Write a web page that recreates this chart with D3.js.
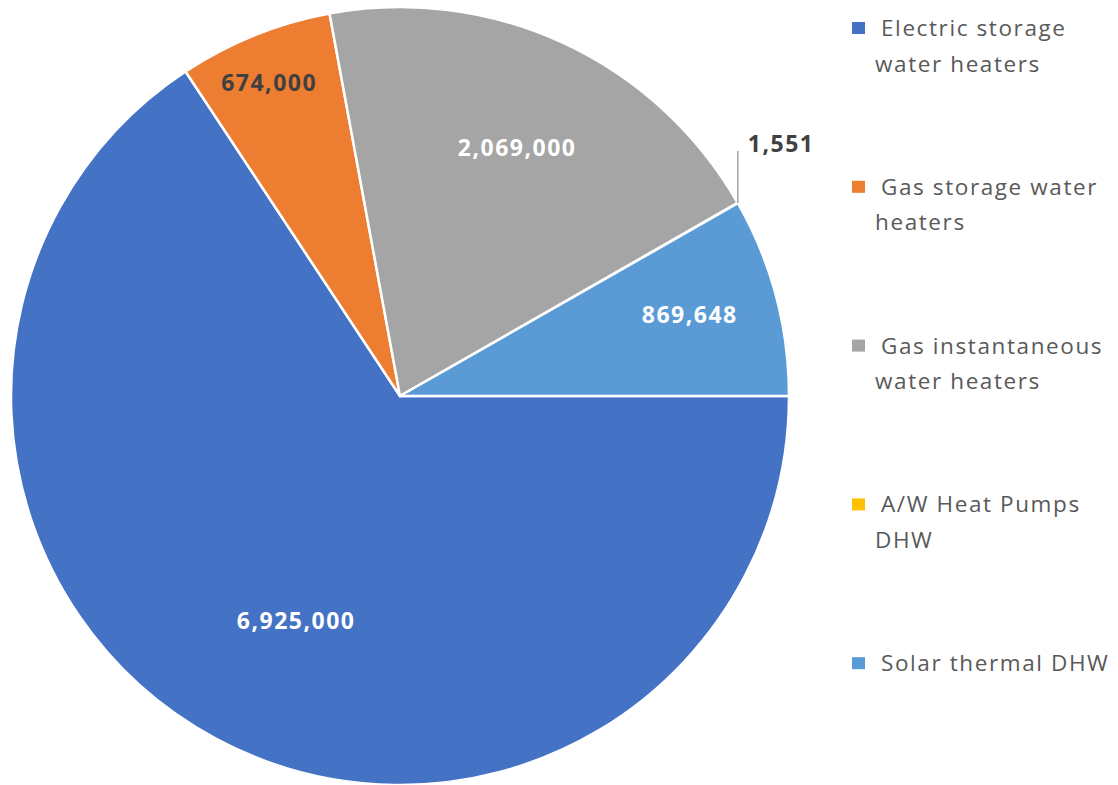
<!DOCTYPE html>
<html>
<head>
<meta charset="utf-8">
<script src="https://cdn.jsdelivr.net/npm/d3@7"></script>
<style>
  html, body { margin: 0; padding: 0; background: #fff; }
  svg { display: block; font-family: "Open Sans", "Noto Sans", sans-serif; }
</style>
</head>
<body>
<svg id="chart" width="1118" height="785"></svg>
<script>
// Installed base of domestic hot water systems
const categories = [
  "Electric storage water heaters",
  "Gas storage water heaters",
  "Gas instantaneous water heaters",
  "A/W Heat Pumps DHW",
  "Solar thermal DHW"
];
const values = [6925000, 674000, 2069000, 1551, 869648];
const legendLines = [
  ["Electric storage", "water heaters"],
  ["Gas storage water", "heaters"],
  ["Gas instantaneous", "water heaters"],
  ["A/W Heat Pumps", "DHW"],
  ["Solar thermal DHW"]
];
const colors = ["#4472C4", "#ED7D31", "#A5A5A5", "#FFC000", "#5B9BD5"];

// label placement: radius as fraction of pie radius (null = outside with leader),
// plus a small angular nudge in degrees
const labelRadius = [0.635, 0.874, 0.707, null, 0.774];
const labelNudge = [-3.4, -0.7, 0.3, 0, -0.9];
const labelFill = ["#fff", "#404040", "#fff", "#404040", "#fff"];

const svg = d3.select("#chart");
const cx = 400, cy = 396, R = 389;
const fmt = d3.format(",");

const data = categories.map((c, i) => ({ name: c, value: values[i], i }));

const pie = d3.pie()
  .value(d => d.value)
  .sort(null)
  .startAngle(Math.PI / 2)
  .endAngle(Math.PI / 2 + 2 * Math.PI);

const arcs = pie(data);
const arc = d3.arc().innerRadius(0).outerRadius(R);

const g = svg.append("g").attr("transform", `translate(${cx},${cy})`);

g.selectAll("path.slice")
  .data(arcs)
  .join("path")
  .attr("class", "slice")
  .attr("d", arc)
  .attr("fill", d => colors[d.data.i])
  .attr("stroke", "#fff")
  .attr("stroke-width", 2.5)
  .attr("stroke-linejoin", "round");

// value labels
arcs.forEach(a => {
  const i = a.data.i;
  const mid = (a.startAngle + a.endAngle) / 2 + labelNudge[i] * Math.PI / 180;
  const label = g.append("text")
    .attr("dominant-baseline", "central")
    .attr("font-weight", "bold")
    .attr("font-size", 23)
    .attr("letter-spacing", 1.5)
    .attr("fill", labelFill[i])
    .text(fmt(a.data.value));
  if (labelRadius[i] !== null) {
    const r = R * labelRadius[i];
    label
      .attr("x", r * Math.sin(mid))
      .attr("y", -r * Math.cos(mid))
      .attr("text-anchor", "middle");
  } else {
    // outside label with a vertical leader line
    const ex = R * Math.sin(mid), ey = -R * Math.cos(mid);
    g.append("line")
      .attr("x1", ex).attr("y1", ey)
      .attr("x2", ex).attr("y2", ey - 52)
      .attr("stroke", "#A5A5A5")
      .attr("stroke-width", 1.5);
    label
      .attr("x", ex + 10)
      .attr("y", ey - 60)
      .attr("text-anchor", "start");
  }
});

// legend
const legend = svg.append("g").attr("transform", "translate(852,36)");
const item = legend.selectAll("g.item")
  .data(data)
  .join("g")
  .attr("class", "item")
  .attr("transform", d => `translate(0,${d.i * 158.8})`);

item.append("rect")
  .attr("x", 0).attr("y", -14)
  .attr("width", 13).attr("height", 12)
  .attr("fill", d => colors[d.i]);

item.each(function(d) {
  const t = d3.select(this).append("text")
    .attr("font-size", 22.5)
    .attr("letter-spacing", 1.6)
    .attr("fill", "#595959");
  legendLines[d.i].forEach((line, k) => {
    t.append("tspan")
      .attr("x", k === 0 ? 29 : 23)
      .attr("y", k * 35.5)
      .text(line);
  });
});
</script>
</body>
</html>
